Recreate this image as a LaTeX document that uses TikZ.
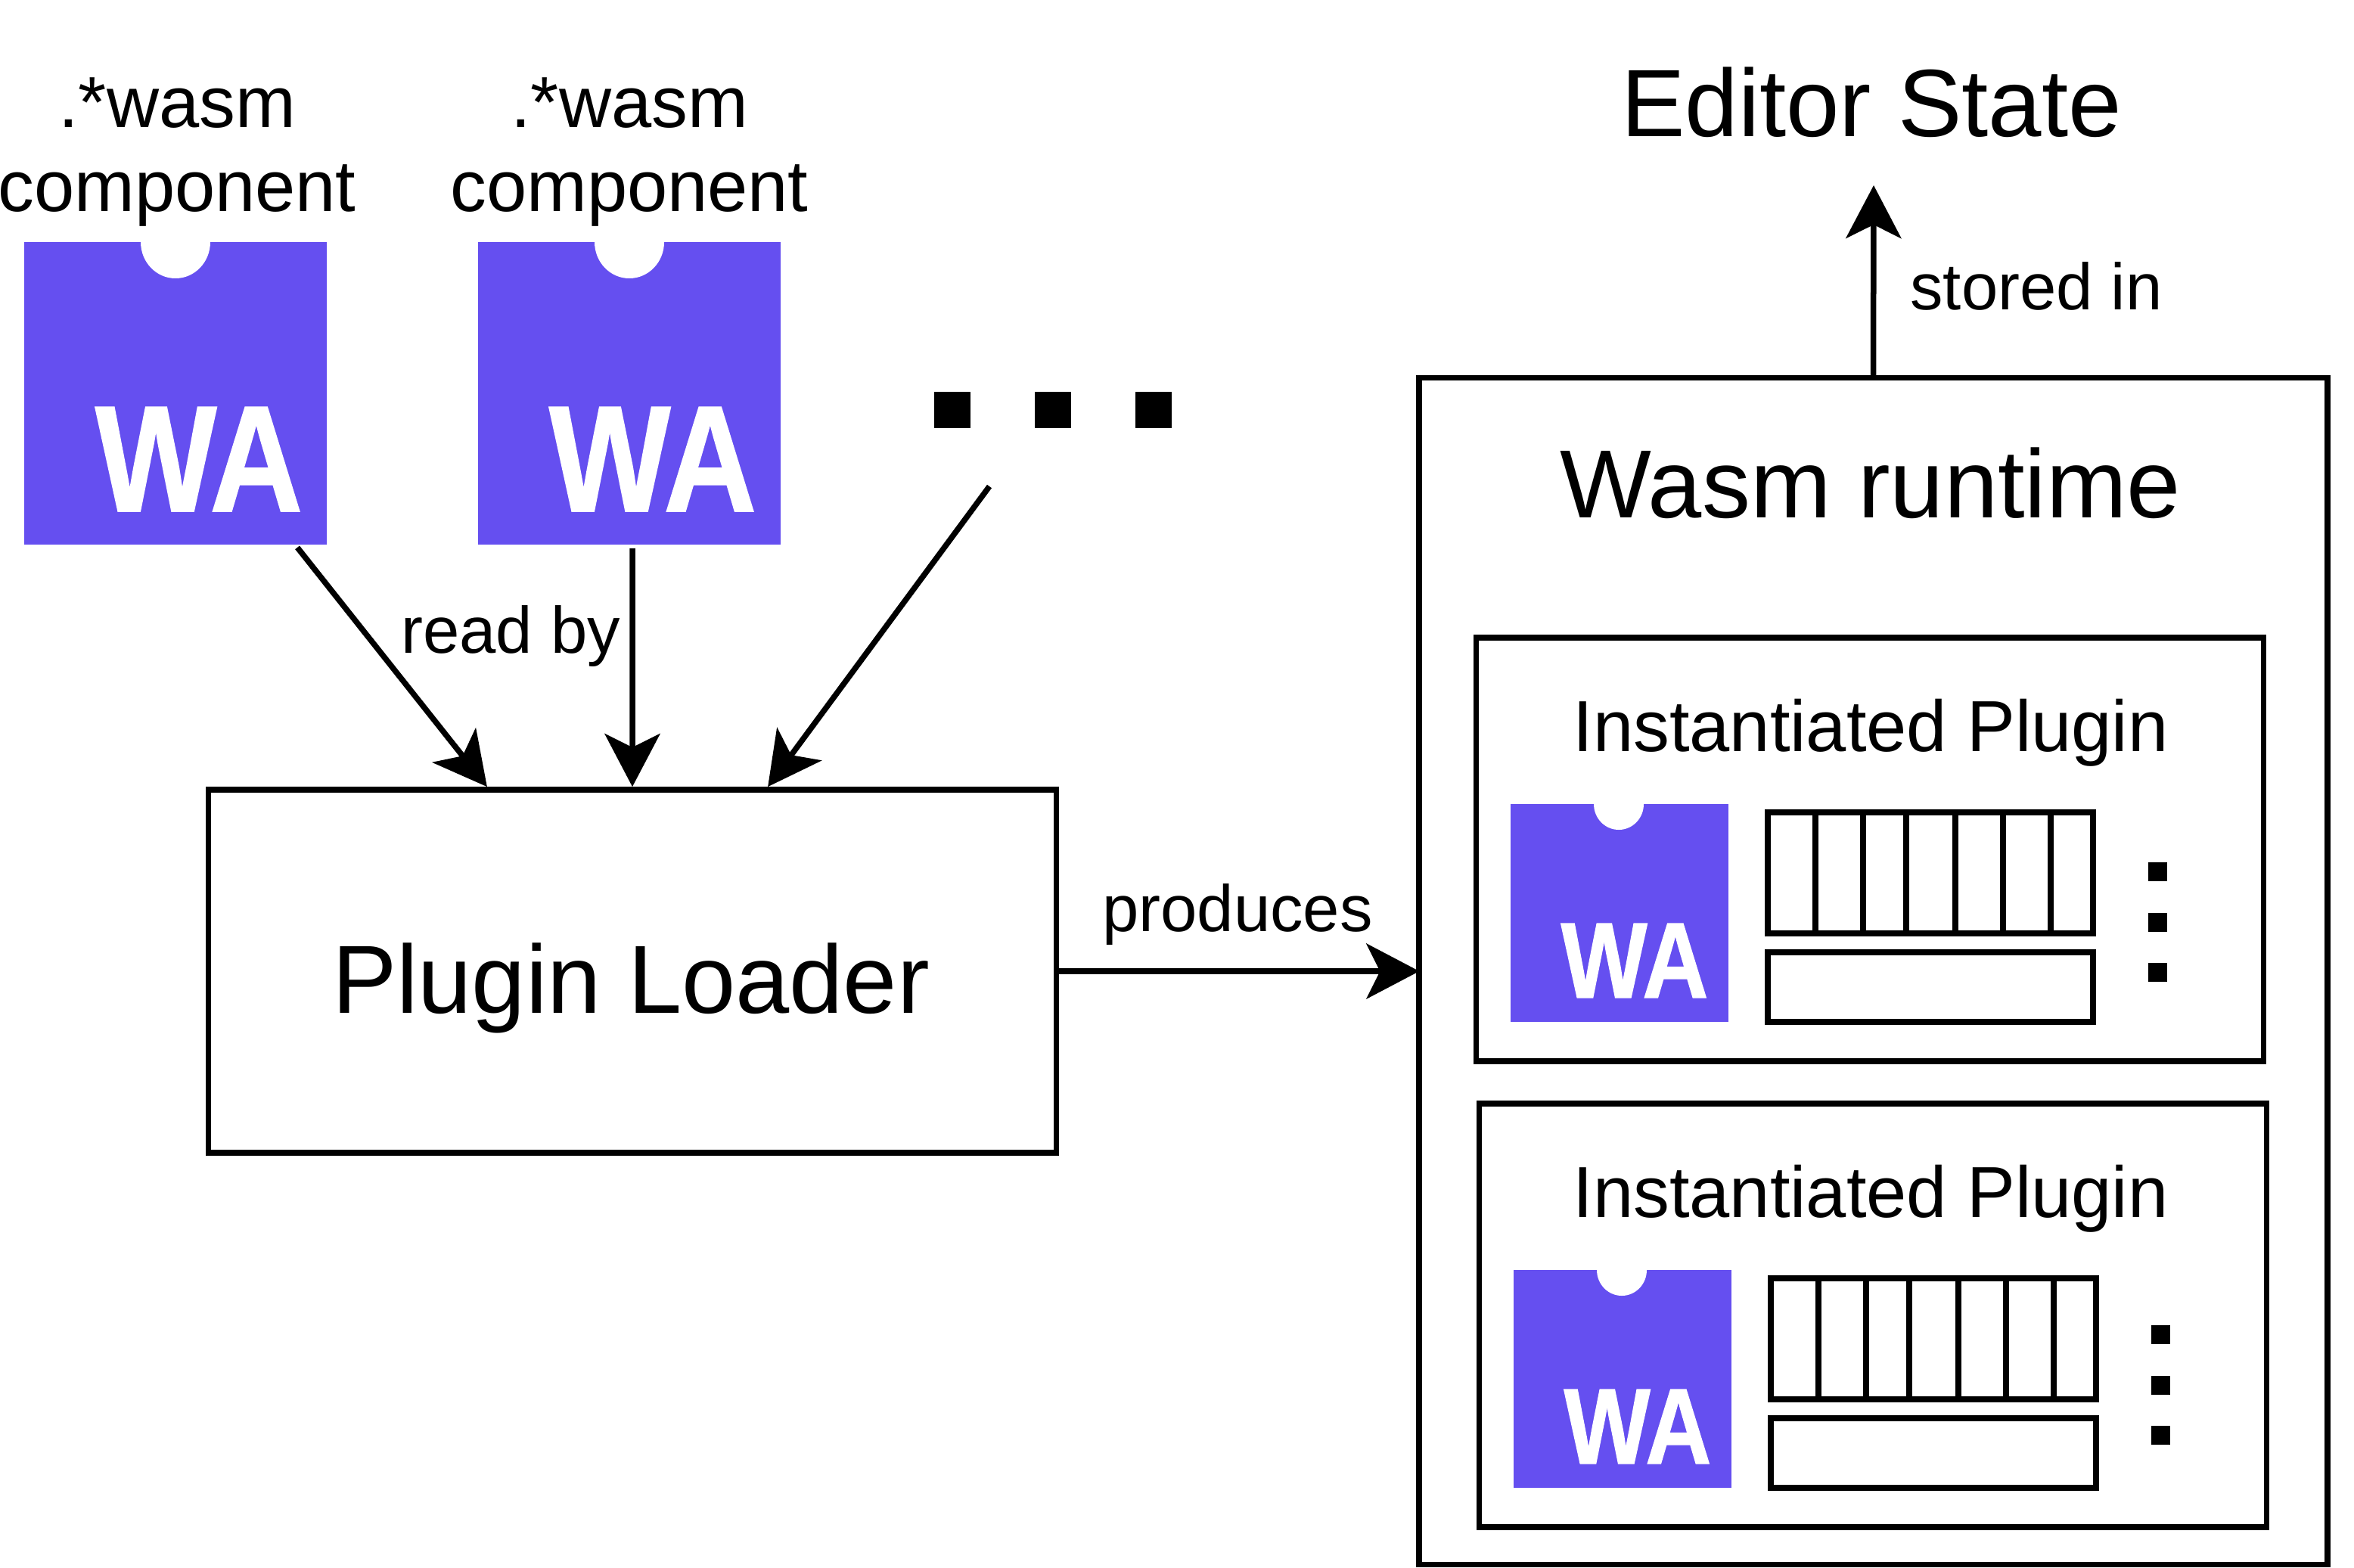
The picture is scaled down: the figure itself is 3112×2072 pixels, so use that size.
\documentclass[tikz,border=0pt]{standalone}
\usepackage{fontspec}
\setmainfont{Liberation Sans}
\newfontfamily\wafont[FakeStretch=0.85,FakeBold=0.8]{Liberation Sans Bold}
\usetikzlibrary{arrows.meta}
\definecolor{wablue}{HTML}{654FF0}
\tikzset{
  box/.style={draw, line width=0.075cm, minimum width=#1},
  flow/.style={line width=0.075cm, -{Stealth[length=0.7cm, width=0.73cm, inset=0.18cm]}},
  wabig/.style={fill=wablue, inner sep=0, minimum size=4cm},
  wasmall/.style={fill=wablue, inner sep=0, minimum size=2.88cm},
  square/.style={fill=black, inner sep=0, minimum size=#1},
  huge/.style={font=\fontsize{36.4}{42}\selectfont},
  mid/.style={font=\fontsize{27.2}{31.6}\selectfont, align=center},
  small/.style={font=\fontsize{24.7}{28}\selectfont}
}
\begin{document}
\begin{tikzpicture}[x=0.01cm, y=-0.01cm]
  \useasboundingbox (0, 0) rectangle (3112, 2072);

  % Components
  \node[wabig] (iconA) at (232, 520) {};
  \fill[white] (186, 320) arc[start angle=180, end angle=360, x radius=46, y radius=-48] -- cycle;
  \node[text=white, font=\wafont\fontsize{57}{57}\selectfont] at (263, 607) {WA};
  \node[mid] (fileA) at (234, 201) {.*wasm\\component};

  \node[wabig] (iconB) at (832, 520) {};
  \fill[white] (786, 320) arc[start angle=180, end angle=360, x radius=46, y radius=-48] -- cycle;
  \node[text=white, font=\wafont\fontsize{57}{57}\selectfont] at (863, 607) {WA};
  \node[mid] (fileB) at (832, 201) {.*wasm\\component};

  % More components
  \node[square=0.48cm] (moreA) at (1259, 542) {};
  \node[square=0.48cm] (moreB) at (1392, 542) {};
  \node[square=0.48cm] (moreC) at (1525, 542) {};
  \coordinate (moreEnd) at (1308, 643);

  % Loader
  \node[box=11.2cm, minimum height=4.8cm] (loader) at (836, 1284) {};
  \node[huge] (loaderText) at (834, 1306) {Plugin Loader};

  \draw[flow] ([xshift=1.61cm, yshift=-0.03cm]iconA.south) -- ([xshift=-1.92cm]loader.north);
  \draw[flow] ([xshift=0.04cm, yshift=-0.04cm]iconB.south) -- (loader.north);
  \draw[flow] (moreEnd) -- ([xshift=1.79cm]loader.north);
  \node[small] (readBy) at (675, 841) {read by};

  % Runtime
  \node[box=12cm, minimum height=15.68cm] (runtime) at (2476.5, 1284) {};
  \node[huge] (runtimeText) at (2473, 639) {Wasm runtime};

  \draw[flow] (loader.east) -- ([xshift=0.04cm]runtime.west);
  \node[small] (produces) at (1636, 1209) {produces};

  % Editor state
  \node[font=\fontsize{36}{42}\selectfont] (editor) at (2474, 135) {Editor State};
  \coordinate (editorEnd) at (2477, 245);
  \draw[flow] (runtime.north) -- (editorEnd);
  \node[small] (stored) at (2692, 378) {stored in};

  % Plugins
  \foreach \name/\dx/\dy/\dotx/\doty in {plugA/0/0/0/0, plugB/4/616/4/612} {
    \node[box=10.4cm, minimum height=5.6cm] (\name) at (2472+\dx, 1123+\dy) {};
    \node[mid] (\name Text) at (2473, 969+\dy) {Instantiated Plugin};
    \node[wasmall] (\name Icon) at (2141+\dx, 1207+\dy) {};
    \fill[white] (2107+\dx, 1063+\dy) arc[start angle=180, end angle=360, x radius=33, y radius=-34] -- cycle;
    \node[text=white, font=\wafont\fontsize{40.5}{41}\selectfont] at (2161+\dx, 1270+\dy) {WA};
    \node[box=4.3cm, minimum height=1.6cm] (\name Cells) at (2552+\dx, 1154+\dy) {};
    \foreach \x in {2400, 2463, 2520, 2585, 2648, 2711}
      \draw[line width=0.08cm] (\x+\dx, 1074+\dy) -- (\x+\dx, 1234+\dy);
    \node[box=4.3cm, minimum height=0.92cm] (\name Bar) at (2552+\dx, 1305+\dy) {};
    \foreach \y in {1152, 1219, 1285}
      \node[square=0.25cm] at (2852+\dotx, \y+\doty) {};
  }
\end{tikzpicture}
\end{document}
